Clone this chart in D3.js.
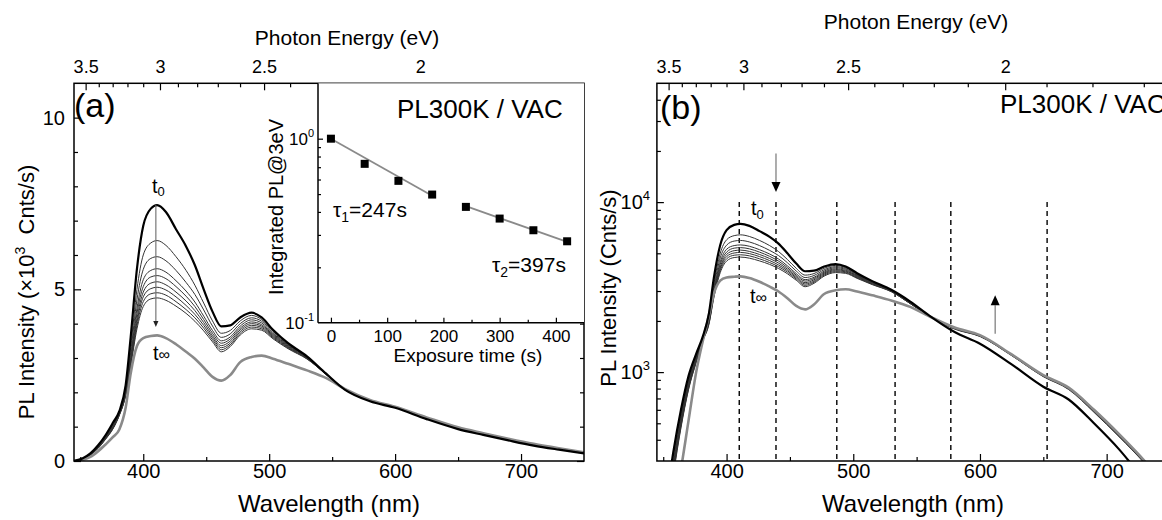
<!DOCTYPE html>
<html lang="en">
<head>
<meta charset="UTF-8">
<title>PL spectra under exposure</title>
<script src="https://cdn.jsdelivr.net/npm/d3@7"></script>
<style>
  body { margin: 0; background: #fff; }
  svg text { font-family: "Liberation Sans", Arial, sans-serif; fill: #000; }
</style>
</head>
<body>
<svg id="chart" width="1162" height="520"></svg>
<script>
// ---- data ----
const wavelengths = [345,352,358,364,370,376,381,386,390,395,400,406,411,418,426,434,441,448,455,462,469,477,486,494,503,515,530,545,560,580,600,625,650,670,690,710,730,750];

// panel (a): PL intensity in 10^3 counts/s
const aT0 = [0.00,0.08,0.22,0.45,0.75,1.12,1.45,2.20,3.60,5.60,6.85,7.35,7.45,7.25,6.75,6.25,5.70,5.00,4.35,3.92,3.95,4.18,4.32,4.18,3.82,3.43,3.05,2.55,2.08,1.74,1.55,1.22,0.93,0.76,0.60,0.45,0.33,0.22];
const aMid = [
  [0.00,0.08,0.21,0.43,0.72,1.08,1.42,2.10,3.30,5.00,6.00,6.35,6.42,6.28,5.95,5.55,5.12,4.60,4.08,3.72,3.80,4.08,4.24,4.12,3.78,3.41,3.04,2.55,2.08,1.75,1.56,1.24,0.94,0.79,0.62,0.47,0.35,0.23],
  [0.00,0.07,0.20,0.42,0.70,1.05,1.40,2.05,3.15,4.70,5.58,5.90,5.95,5.83,5.55,5.20,4.85,4.40,3.93,3.60,3.70,4.00,4.17,4.07,3.74,3.39,3.03,2.55,2.08,1.75,1.56,1.24,0.95,0.79,0.62,0.47,0.35,0.23],
  [0.00,0.07,0.20,0.41,0.68,1.02,1.38,2.00,3.02,4.45,5.28,5.55,5.60,5.50,5.25,4.95,4.63,4.22,3.80,3.50,3.61,3.93,4.11,4.02,3.71,3.37,3.02,2.54,2.08,1.76,1.56,1.25,0.95,0.80,0.63,0.48,0.35,0.23],
  [0.00,0.07,0.19,0.40,0.67,1.00,1.37,1.98,2.95,4.30,5.08,5.36,5.40,5.31,5.08,4.80,4.50,4.12,3.72,3.43,3.55,3.87,4.05,3.97,3.68,3.35,3.01,2.54,2.08,1.76,1.57,1.25,0.96,0.80,0.63,0.48,0.36,0.24],
  [0.00,0.06,0.19,0.39,0.66,0.98,1.36,1.96,2.90,4.15,4.92,5.18,5.22,5.13,4.92,4.66,4.38,4.03,3.65,3.36,3.49,3.82,4.00,3.93,3.65,3.33,3.00,2.54,2.08,1.76,1.57,1.25,0.96,0.80,0.63,0.48,0.36,0.24],
  [0.00,0.06,0.18,0.38,0.65,0.96,1.35,1.94,2.85,4.05,4.78,5.02,5.06,4.98,4.78,4.53,4.27,3.95,3.59,3.30,3.43,3.77,3.95,3.89,3.62,3.31,2.99,2.53,2.08,1.76,1.57,1.26,0.96,0.80,0.64,0.49,0.36,0.24],
  [0.00,0.06,0.18,0.37,0.64,0.95,1.34,1.92,2.80,3.95,4.64,4.87,4.90,4.83,4.64,4.41,4.17,3.87,3.53,3.24,3.38,3.72,3.90,3.85,3.59,3.29,2.98,2.53,2.08,1.77,1.57,1.26,0.97,0.81,0.64,0.49,0.36,0.24],
  [0.00,0.06,0.17,0.36,0.63,0.94,1.33,1.90,2.75,3.85,4.50,4.72,4.75,4.68,4.51,4.30,4.07,3.79,3.47,3.18,3.33,3.67,3.85,3.81,3.56,3.27,2.97,2.53,2.08,1.77,1.58,1.26,0.97,0.81,0.64,0.49,0.37,0.25]
];
const aTinf = [0.00,0.04,0.12,0.28,0.48,0.70,0.92,1.55,2.55,3.35,3.58,3.64,3.66,3.58,3.40,3.18,2.98,2.72,2.45,2.34,2.50,2.88,3.03,3.07,2.98,2.83,2.64,2.42,2.10,1.78,1.58,1.27,0.98,0.81,0.65,0.50,0.37,0.25];

// panel (b): PL intensity in counts/s (log axis)
const bT0 = [100,170,340,600,950,1280,1600,2200,3600,5600,6850,7350,7450,7250,6750,6250,5700,5000,4350,3920,3950,4180,4320,4180,3820,3430,3050,2600,2150,1720,1470,1110,820,690,500,350,230,150];
const bMid = [
  [95,160,320,560,900,1240,1580,2100,3300,5000,6000,6350,6420,6280,5950,5550,5120,4600,4080,3720,3800,4080,4240,4120,3780,3410,3040,2560,2140,1790,1620,1250,940,790,580,415,290,190],
  [90,150,300,540,880,1220,1570,2050,3150,4700,5580,5900,5950,5830,5550,5200,4850,4400,3930,3600,3700,4000,4170,4070,3740,3390,3030,2550,2140,1800,1625,1255,945,795,585,418,292,192],
  [88,145,290,525,860,1200,1560,2000,3020,4450,5280,5550,5600,5500,5250,4950,4630,4220,3800,3500,3610,3930,4110,4020,3710,3370,3020,2540,2140,1805,1630,1258,948,798,588,420,293,193],
  [85,140,280,510,845,1185,1550,1980,2950,4300,5080,5360,5400,5310,5080,4800,4500,4120,3720,3430,3550,3870,4050,3970,3680,3350,3010,2540,2140,1810,1635,1260,950,800,590,422,294,194],
  [82,135,270,500,830,1170,1540,1960,2900,4150,4920,5180,5220,5130,4920,4660,4380,4030,3650,3360,3490,3820,4000,3930,3650,3330,3000,2540,2140,1815,1640,1262,952,802,592,424,295,195],
  [80,130,262,490,815,1160,1530,1940,2850,4050,4780,5020,5060,4980,4780,4530,4270,3950,3590,3300,3430,3770,3950,3890,3620,3310,2990,2530,2140,1820,1642,1264,954,804,594,426,296,196],
  [78,125,255,480,800,1150,1520,1920,2800,3950,4640,4870,4900,4830,4640,4410,4170,3870,3530,3240,3380,3720,3900,3850,3590,3290,2980,2530,2140,1822,1645,1266,956,806,596,428,297,197],
  [75,120,248,470,790,1140,1510,1900,2750,3850,4500,4720,4750,4680,4510,4300,4070,3790,3470,3180,3330,3670,3850,3810,3560,3270,2970,2530,2140,1825,1648,1268,958,808,598,429,298,198]
];
const bTinf = [60,100,160,270,520,1000,1500,2150,2900,3450,3600,3640,3660,3580,3400,3180,2980,2720,2450,2340,2500,2880,3030,3070,2980,2830,2640,2420,2130,1830,1650,1270,960,810,600,430,300,200];

// inset: integrated PL @ 3 eV vs exposure time
const insetTime = [0, 60, 120, 180, 240, 300, 360, 420];
const insetPL = [1.0, 0.73, 0.59, 0.497, 0.426, 0.368, 0.318, 0.277];
const fit1Time = [0, 180], fit1PL = [1.0, 0.49];
const fit2Time = [240, 420], fit2PL = [0.43, 0.275];

// vertical dashed guide lines in (b), nm
const guideLines = [410, 439, 487, 533, 577, 653];

// ticks
const wlMajor = [400, 500, 600, 700];
const wlMinor = [350, 450, 550, 650];
const energyMajor = [3.5, 3, 2.5, 2];
const energyMinor = [3.4, 3.3, 3.2, 3.1, 2.9, 2.8, 2.7, 2.6, 2.4, 2.3, 2.2, 2.1, 1.9, 1.8, 1.7];
const linMajor = [0, 5, 10];
const linMinor = [1, 2, 3, 4, 6, 7, 8, 9];
const logMajorB = [1000, 10000];
const logMinorB = [400, 500, 600, 700, 800, 900, 2000, 3000, 4000, 5000, 6000, 7000, 8000, 9000, 20000, 30000, 40000];
const insetXMajor = [0, 100, 200, 300, 400];
const insetXMinor = [50, 150, 250, 350];
const insetYMinor = [0.2, 0.3, 0.4, 0.5, 0.6, 0.7, 0.8, 0.9];

const HC = 1239.84; // eV*nm

// ---- drawing ----
const svg = d3.select("#chart");
const defs = svg.append("defs");

function ticks(parent, axisGen, scale, values, size, opts = {}) {
  const axis = axisGen(scale).tickValues(values).tickSizeInner(-size).tickSizeOuter(0)
    .tickPadding(opts.pad == null ? 3 : opts.pad)
    .tickFormat(opts.format || (() => ""));
  const g = parent.append("g").attr("transform", opts.at || null).call(axis);
  g.select(".domain").remove();
  g.selectAll(".tick line").attr("stroke", "#000").attr("stroke-width", 1.2);
  g.selectAll(".tick text")
    .attr("font-family", '"Liberation Sans", Arial, sans-serif')
    .attr("font-size", opts.fs || 20).attr("fill", "#000");
  return g;
}

function energyAxis(g, x, yTop) {
  const fmt = d => String(+(HC / d).toFixed(1));
  ticks(g, d3.axisTop, x, energyMajor.map(e => HC / e), 7, { at: `translate(0,${yTop})`, pad: 10, fs: 18, format: fmt });
  ticks(g, d3.axisTop, x, energyMinor.map(e => HC / e), 4, { at: `translate(0,${yTop})` });
}

function drawCurves(g, x, y, t0, mid, tinf) {
  const line = d3.line().x((d, i) => x(wavelengths[i])).y(d => y(d)).curve(d3.curveMonotoneX);
  mid.forEach(s => g.append("path").attr("d", line(s)).attr("fill", "none")
    .attr("stroke", "#333").attr("stroke-width", 1));
  g.append("path").attr("d", line(tinf)).attr("fill", "none").attr("stroke", "#8a8a8a").attr("stroke-width", 2.6);
  g.append("path").attr("d", line(t0)).attr("fill", "none").attr("stroke", "#000").attr("stroke-width", 2.2);
}

function subLabel(g, x, y, main, sub, subSize, subDy, size) {
  const t = g.append("text").attr("x", x).attr("y", y).attr("font-size", size || 20);
  t.append("tspan").text(main);
  t.append("tspan").attr("font-size", subSize).attr("dy", subDy).text(sub);
  return t;
}

function arrow(g, x, y1, y2, headLen, headW, headColor) {
  const dir = y2 > y1 ? 1 : -1;
  g.append("line").attr("x1", x).attr("x2", x).attr("y1", y1).attr("y2", y2 - dir * headLen)
    .attr("stroke", "#777").attr("stroke-width", 1.2);
  g.append("path")
    .attr("d", `M${x},${y2} L${x - headW},${y2 - dir * headLen} L${x + headW},${y2 - dir * headLen} Z`)
    .attr("fill", headColor);
}

// ================= panel (a) =================
const plotTop = 83.3, plotBottom = 461;
const xa = d3.scaleLinear([345, 750], [74, 584]);
const ya = d3.scaleLinear([0, 11], [plotBottom, plotTop]);
const ga = svg.append("g");

defs.append("clipPath").attr("id", "clipA").append("rect")
  .attr("x", 74).attr("y", plotTop).attr("width", 510).attr("height", plotBottom - plotTop);
drawCurves(ga.append("g").attr("clip-path", "url(#clipA)"), xa, ya, aT0, aMid, aTinf);

// arrow t0 -> t_inf
arrow(ga, xa(410), ya(7.45), ya(3.9), 6, 2.6, "#222");

ticks(ga, d3.axisBottom, xa, wlMajor, 7, { at: `translate(0,${plotBottom})`, pad: 3, fs: 20, format: d3.format("d") });
ticks(ga, d3.axisBottom, xa, wlMinor, 4, { at: `translate(0,${plotBottom})` });
ticks(ga, d3.axisLeft, ya, linMajor, 7, { at: "translate(74,0)", pad: 9, fs: 20, format: d3.format("d") });
ticks(ga, d3.axisLeft, ya, linMinor, 4, { at: "translate(74,0)" });
ticks(ga, d3.axisRight, ya, linMajor, 7, { at: "translate(584,0)" });
ticks(ga, d3.axisRight, ya, linMinor, 4, { at: "translate(584,0)" });
energyAxis(ga, xa, plotTop);

ga.append("rect").attr("x", 74).attr("y", plotTop).attr("width", 510).attr("height", plotBottom - plotTop)
  .attr("fill", "none").attr("stroke", "#000").attr("stroke-width", 1.5);

// inset
const xi = d3.scaleLinear([-23, 450], [318, 584]);
const yi = d3.scaleLog([0.1, 2], [322.7, plotTop]);
const gi = ga.append("g");
gi.append("rect").attr("x", 318).attr("y", plotTop).attr("width", 266).attr("height", 322.7 - plotTop).attr("fill", "#fff");
const fitLine = d3.line().x(d => xi(d[0])).y(d => yi(d[1]));
[[fit1Time, fit1PL], [fit2Time, fit2PL]].forEach(([t, v]) =>
  gi.append("path").attr("d", fitLine(d3.zip(t, v))).attr("fill", "none").attr("stroke", "#8a8a8a").attr("stroke-width", 1.8));
gi.selectAll("rect.pt").data(d3.zip(insetTime, insetPL)).join("rect").attr("class", "pt")
  .attr("x", d => xi(d[0]) - 4).attr("y", d => yi(d[1]) - 4).attr("width", 8).attr("height", 8).attr("fill", "#000");
ticks(gi, d3.axisBottom, xi, insetXMajor, 5, { at: "translate(0,322.7)", pad: 7, fs: 17, format: d3.format("d") });
ticks(gi, d3.axisBottom, xi, insetXMinor, 3, { at: "translate(0,322.7)" });
ticks(gi, d3.axisLeft, yi, [1], 5, { at: "translate(318,0)" });
ticks(gi, d3.axisLeft, yi, insetYMinor, 3, { at: "translate(318,0)" });
gi.append("line").attr("x1", 318).attr("x2", 318).attr("y1", plotTop).attr("y2", 322.7).attr("stroke", "#000").attr("stroke-width", 1.5);
gi.append("line").attr("x1", 318).attr("x2", 584).attr("y1", 322.7).attr("y2", 322.7).attr("stroke", "#000").attr("stroke-width", 1.5);
[[1, "0"], [0.1, "-1"]].forEach(([v, p]) => {
  const t = gi.append("text").attr("x", 314).attr("y", yi(v) + 6).attr("text-anchor", "end").attr("font-size", 17);
  t.append("tspan").text("10");
  t.append("tspan").attr("dy", -8).attr("font-size", 11).text(p);
});
gi.append("text").attr("transform", "translate(276,207) rotate(-90)").attr("text-anchor", "middle")
  .attr("dy", "0.35em").attr("font-size", 20).text("Integrated PL@3eV");
gi.append("text").attr("x", 468).attr("y", 362).attr("text-anchor", "middle").attr("font-size", 19).text("Exposure time (s)");
const tau1 = gi.append("text").attr("x", 333).attr("y", 216.7).attr("font-size", 21);
tau1.append("tspan").text("\u03c4");
tau1.append("tspan").attr("font-size", 14).attr("dy", 5).text("1");
tau1.append("tspan").attr("dy", -5).text("=247s");
const tau2 = gi.append("text").attr("x", 492).attr("y", 271.7).attr("font-size", 21);
tau2.append("tspan").text("\u03c4");
tau2.append("tspan").attr("font-size", 14).attr("dy", 5).text("2");
tau2.append("tspan").attr("dy", -5).text("=397s");

// texts (a)
ga.append("text").attr("x", 74).attr("y", 117).attr("font-size", 34).text("(a)");
ga.append("text").attr("x", 397).attr("y", 118).attr("font-size", 26).text("PL300K / VAC");
ga.append("text").attr("x", 347).attr("y", 45).attr("text-anchor", "middle").attr("font-size", 21).text("Photon Energy (eV)");
ga.append("text").attr("x", 329).attr("y", 512).attr("text-anchor", "middle").attr("font-size", 24).text("Wavelength (nm)");
const yta = ga.append("text").attr("transform", "translate(26,292) rotate(-90)").attr("text-anchor", "middle")
  .attr("dy", "0.35em").attr("font-size", 22);
yta.append("tspan").text("PL Intensity (\u00d710");
yta.append("tspan").attr("font-size", 14).attr("dy", -9).text("3");
yta.append("tspan").attr("dy", 9).text("\u00a0 Cnts/s)");
subLabel(ga, 152, 193, "t", "0", 13, 3);
ga.append("text").attr("x", 153).attr("y", 360).attr("font-size", 20).text("t")
  .append("tspan").attr("font-size", 16).text("\u221e");

// ================= panel (b) =================
const xb = d3.scaleLinear([345, 750], [656.9, 1170]);
const yb = d3.scaleLog([300, 50000], [plotBottom, plotTop]);
const gb = svg.append("g");

defs.append("clipPath").attr("id", "clipB").append("rect")
  .attr("x", 656.9).attr("y", plotTop).attr("width", 513.1).attr("height", plotBottom - plotTop);
const gbc = gb.append("g").attr("clip-path", "url(#clipB)");
gbc.selectAll("line.guide").data(guideLines).join("line").attr("class", "guide")
  .attr("x1", d => xb(d)).attr("x2", d => xb(d)).attr("y1", yb(10000)).attr("y2", plotBottom)
  .attr("stroke", "#000").attr("stroke-width", 1.4).attr("stroke-dasharray", "5,4");
drawCurves(gbc, xb, yb, bT0, bMid, bTinf);

arrow(gb, xb(439), yb(19300), yb(11450), 10, 4.5, "#000");
arrow(gb, xb(612), yb(1680), yb(2830), 10, 4.5, "#000");

ticks(gb, d3.axisBottom, xb, wlMajor, 7, { at: `translate(0,${plotBottom})`, pad: 3, fs: 20, format: d3.format("d") });
ticks(gb, d3.axisBottom, xb, wlMinor, 4, { at: `translate(0,${plotBottom})` });
ticks(gb, d3.axisLeft, yb, logMajorB, 7, { at: "translate(656.9,0)" });
ticks(gb, d3.axisLeft, yb, logMinorB, 4, { at: "translate(656.9,0)" });
energyAxis(gb, xb, plotTop);
gb.append("rect").attr("x", 656.9).attr("y", plotTop).attr("width", 513.1).attr("height", plotBottom - plotTop)
  .attr("fill", "none").attr("stroke", "#000").attr("stroke-width", 1.5);
logMajorB.forEach(v => {
  const t = gb.append("text").attr("x", 650).attr("y", yb(v) + 7).attr("text-anchor", "end").attr("font-size", 20);
  t.append("tspan").text("10");
  t.append("tspan").attr("dy", -9).attr("font-size", 13).text(Math.round(Math.log10(v)));
});

gb.append("text").attr("x", 660).attr("y", 119).attr("font-size", 34).text("(b)");
gb.append("text").attr("x", 1000).attr("y", 113).attr("font-size", 26).text("PL300K / VAC");
gb.append("text").attr("x", 916).attr("y", 29).attr("text-anchor", "middle").attr("font-size", 21).text("Photon Energy (eV)");
gb.append("text").attr("x", 913).attr("y", 512).attr("text-anchor", "middle").attr("font-size", 24).text("Wavelength (nm)");
gb.append("text").attr("transform", "translate(608,288) rotate(-90)").attr("text-anchor", "middle")
  .attr("dy", "0.35em").attr("font-size", 22).text("PL Intensity (Cnts/s)");
subLabel(gb, 751, 215, "t", "0", 13, 4);
gb.append("text").attr("x", 750).attr("y", 303).attr("font-size", 20).text("t")
  .append("tspan").attr("font-size", 16).text("\u221e");
</script>
</body>
</html>
